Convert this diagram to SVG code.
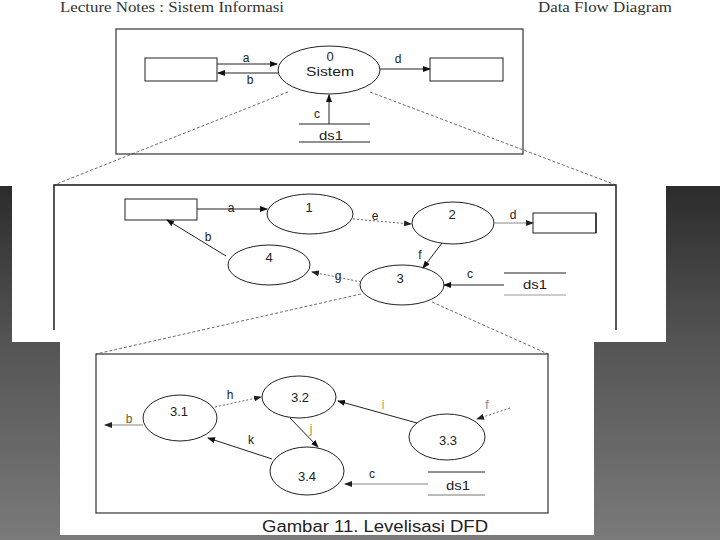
<svg xmlns="http://www.w3.org/2000/svg" width="720" height="540" viewBox="0 0 720 540">
<defs>
<linearGradient id="bg" x1="0" y1="186" x2="0" y2="540" gradientUnits="userSpaceOnUse">
<stop offset="0" stop-color="#2c2c2c"/>
<stop offset="0.45" stop-color="#555555"/>
<stop offset="1" stop-color="#7a7a7a"/>
</linearGradient>
<marker id="ah" markerWidth="8" markerHeight="6" refX="7" refY="3" orient="auto" markerUnits="userSpaceOnUse">
<path d="M0,0 L8,3 L0,6 Z" fill="#111"/>
</marker>
<marker id="ahg" markerWidth="8" markerHeight="6" refX="7" refY="3" orient="auto" markerUnits="userSpaceOnUse">
<path d="M0,0 L8,3 L0,6 Z" fill="#222"/>
</marker>
</defs>
<style>
.t{font-family:"Liberation Sans",Arial,sans-serif;font-size:13px;fill:#222;text-anchor:middle}
.lb{font-family:"Liberation Sans",Arial,sans-serif;font-size:12px;fill:#222;text-anchor:middle}
.hd{font-family:"Liberation Serif","Times New Roman",serif;font-size:14px;fill:#333}
.nd{fill:#fff;stroke:#222;stroke-width:1}
.ln{stroke:#222;stroke-width:1;fill:none}
.fr{fill:none;stroke:#333;stroke-width:1.2}
.dz{stroke:#444;stroke-width:0.8;stroke-dasharray:3 2;fill:none}
.f{stroke:#222;stroke-width:1;fill:none;marker-end:url(#ah)}
.fg{stroke:#888;stroke-width:1;fill:none;marker-end:url(#ahg)}
.fd{stroke:#666;stroke-width:1;stroke-dasharray:2 2;fill:none;marker-end:url(#ahg)}
</style>

<!-- background -->
<rect x="0" y="0" width="720" height="540" fill="url(#bg)"/>
<rect x="0" y="0" width="720" height="186" fill="#fff"/>
<rect x="12" y="186" width="654" height="156" fill="#fff"/>
<rect x="60" y="342" width="534" height="193" fill="#fff"/>

<!-- header -->
<text class="hd" x="60" y="12" textLength="224" lengthAdjust="spacingAndGlyphs">Lecture Notes : Sistem Informasi</text>
<text class="hd" x="538" y="12" textLength="134" lengthAdjust="spacingAndGlyphs">Data Flow Diagram</text>

<!-- frames -->
<g id="frames">
<rect class="fr" x="116" y="29" width="407" height="125" stroke="#555"/>
<path d="M54,330 L54,185 L616,185 L616,330" fill="none" stroke="#111" stroke-width="1.4"/>
<rect class="fr" x="96" y="354" width="452" height="159" stroke="#444"/>
</g>

<!-- level 0 nodes -->
<g id="ext-left-0"><rect class="nd" x="145" y="58" width="72" height="23"/></g>
<g id="proc-0"><ellipse class="nd" cx="329" cy="70" rx="51" ry="24"/>
<text class="t" x="330" y="61">0</text>
<text class="t" x="330" y="76" textLength="48" lengthAdjust="spacingAndGlyphs">Sistem</text></g>
<g id="ext-right-0"><rect class="nd" x="430" y="58" width="73" height="23"/></g>
<g id="ds1-0"><line class="ln" x1="299" y1="124" x2="370" y2="124"/><line class="ln" x1="299" y1="142" x2="370" y2="142"/>
<text class="t" x="331" y="140" textLength="24" lengthAdjust="spacingAndGlyphs">ds1</text></g>

<!-- level 1 nodes -->
<g id="ext-left-1"><rect class="nd" x="125" y="199" width="72" height="21"/></g>
<g id="proc-1"><ellipse class="nd" cx="310" cy="214" rx="43" ry="20"/><text class="t" x="309" y="212">1</text></g>
<g id="proc-2"><ellipse class="nd" cx="453" cy="223" rx="41" ry="21"/><text class="t" x="452" y="219">2</text></g>
<g id="ext-right-1"><rect class="nd" x="533" y="213" width="63" height="20" stroke="#999"/><line x1="596" y1="213" x2="596" y2="233" stroke="#222" stroke-width="1.4"/></g>
<g id="proc-3"><ellipse class="nd" cx="402" cy="285" rx="42" ry="20"/><text class="t" x="400" y="283">3</text></g>
<g id="proc-4"><ellipse class="nd" cx="269" cy="265" rx="41" ry="20"/><text class="t" x="269" y="262">4</text></g>
<g id="ds1-1"><line class="ln" x1="504" y1="273" x2="566" y2="273"/><line x1="504" y1="295" x2="566" y2="295" stroke="#999" stroke-width="1"/>
<text class="t" x="535" y="289" textLength="24" lengthAdjust="spacingAndGlyphs">ds1</text></g>

<!-- level 2 nodes -->
<g id="proc-3-1"><ellipse class="nd" cx="180" cy="418" rx="37" ry="23"/><text class="t" x="179" y="416">3.1</text></g>
<g id="proc-3-2"><ellipse class="nd" cx="299" cy="397" rx="37" ry="21"/><text class="t" x="300" y="402">3.2</text></g>
<g id="proc-3-3"><ellipse class="nd" cx="447" cy="437" rx="38" ry="23"/><text class="t" x="448" y="445">3.3</text></g>
<g id="proc-3-4"><ellipse class="nd" cx="307" cy="471" rx="37" ry="24"/><text class="t" x="307" y="481">3.4</text></g>
<g id="ds1-2"><line class="ln" x1="428" y1="472" x2="485" y2="472"/><line x1="428" y1="495" x2="485" y2="495" stroke="#777" stroke-width="1"/>
<text class="t" x="458" y="490" textLength="24" lengthAdjust="spacingAndGlyphs">ds1</text></g>

<!-- connectors -->
<g id="connectors">
<line class="dz" x1="288" y1="92" x2="54" y2="185"/>
<line class="dz" x1="370" y1="92" x2="616" y2="185"/>
<line class="dz" x1="361" y1="294" x2="96" y2="354"/>
<line class="dz" x1="432" y1="302" x2="548" y2="354"/>

<line class="f" x1="217" y1="64" x2="277" y2="64"/>
<line class="f" x1="278" y1="73" x2="218" y2="73"/>
<line class="f" x1="380" y1="69" x2="430" y2="69"/>
<line class="f" x1="329" y1="124" x2="329" y2="95"/>

<line class="f" x1="197" y1="209" x2="267" y2="209"/>
<line class="fd" x1="353" y1="219" x2="411" y2="224"/>
<line class="fg" x1="494" y1="223" x2="533" y2="223"/>
<line class="f" x1="442" y1="243" x2="423" y2="268"/>
<line class="f" x1="504" y1="285" x2="444" y2="285"/>
<line class="fd" x1="361" y1="282" x2="312" y2="272"/>
<line class="f" x1="226" y1="256" x2="167" y2="220"/>

<line class="fg" x1="143" y1="425" x2="105" y2="425"/>
<line class="fd" x1="215" y1="407" x2="261" y2="397"/>
<line class="f" x1="290" y1="418" x2="318" y2="447"/>
<line class="f" x1="272" y1="459" x2="208" y2="438"/>
<line class="f" x1="417" y1="423" x2="338" y2="401"/>
<line class="fd" x1="510" y1="408" x2="477" y2="419"/>
<line class="fg" x1="428" y1="484" x2="345" y2="484"/>

<text class="lb" x="246" y="62">a</text>
<text class="lb" x="250" y="84">b</text>
<text class="lb" x="398" y="63">d</text>
<text class="lb" x="317" y="118">c</text>

<text class="lb" x="231" y="212">a</text>
<text class="lb" x="375" y="220">e</text>
<text class="lb" x="513" y="219">d</text>
<text class="lb" x="420" y="259">f</text>
<text class="lb" x="470" y="278">c</text>
<text class="lb" x="338" y="280">g</text>
<text class="lb" x="208" y="241">b</text>

<text class="lb" x="129" y="423" fill="#7a5a20" style="fill:#7a5a20">b</text>
<text class="lb" x="230" y="399">h</text>
<text class="lb" x="311" y="433" style="fill:#b09030">j</text>
<text class="lb" x="251" y="444">k</text>
<text class="lb" x="383" y="409" style="fill:#c0a040">i</text>
<text class="lb" x="487" y="409" style="fill:#888">f</text>
<text class="lb" x="372" y="478">c</text>
</g>

<text x="262" y="532" font-family="'Liberation Sans',Arial,sans-serif" font-size="16" fill="#222" textLength="226" lengthAdjust="spacingAndGlyphs">Gambar 11. Levelisasi DFD</text>
</svg>
